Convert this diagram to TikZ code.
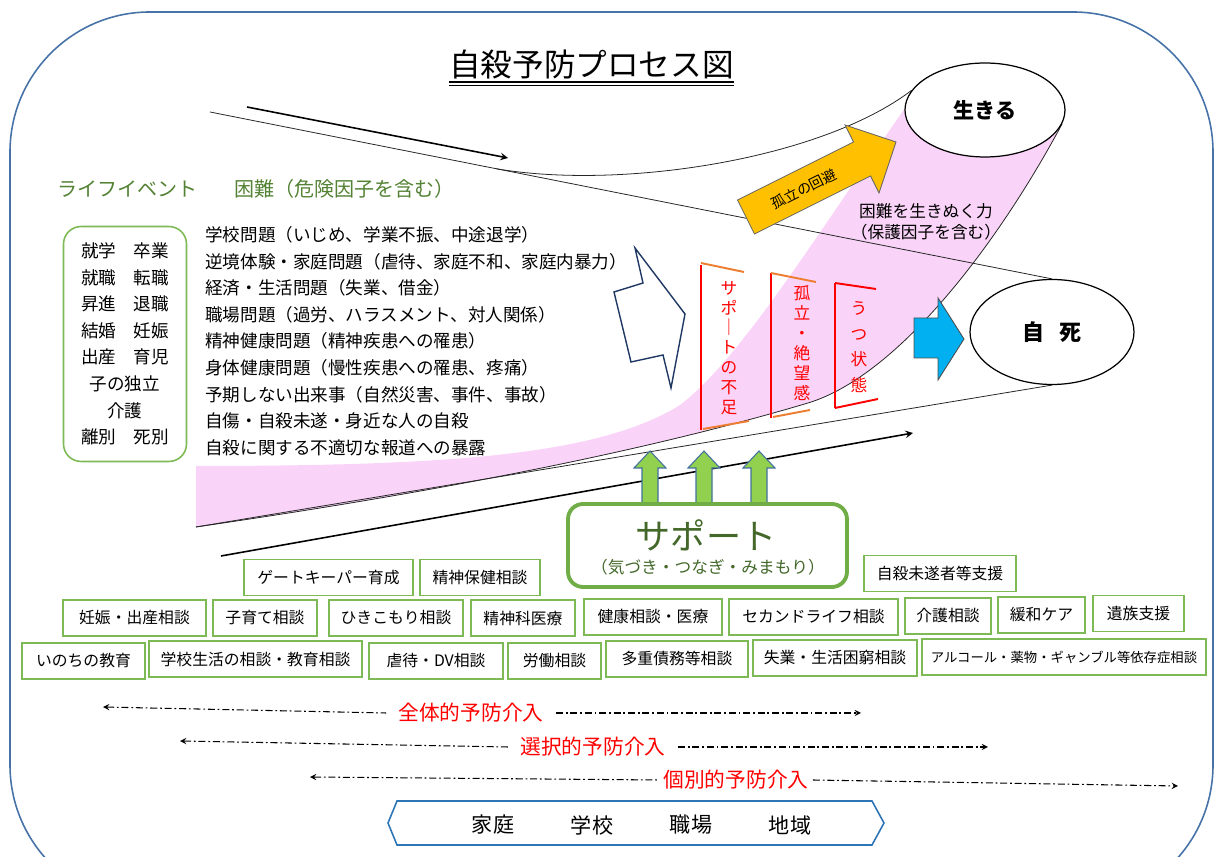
\documentclass[tikz,border=0pt]{standalone}
\usepackage{fontspec}
\setmainfont{Noto Sans CJK JP}
\usetikzlibrary{shapes.geometric,backgrounds,calc}

\definecolor{framecol}{RGB}{70,114,168}
\definecolor{lifegreen}{RGB}{84,130,53}
\definecolor{svcgreen}{RGB}{125,185,85}
\definecolor{supgreen}{RGB}{112,173,71}
\definecolor{arrowgreen}{RGB}{146,208,80}
\definecolor{arrowedge}{RGB}{65,113,156}
\definecolor{pinkfill}{RGB}{250,212,248}
\definecolor{avoidyellow}{RGB}{255,192,0}
\definecolor{deathblue}{RGB}{0,176,240}
\definecolor{navy}{RGB}{31,56,100}
\definecolor{bracketorange}{RGB}{237,125,49}
\definecolor{bannerblue}{RGB}{46,117,182}

\newcommand{\setfs}[1]{\fontsize{#1}{#1}\selectfont}

\begin{document}
\begin{tikzpicture}[x=0.02cm,y=-0.02cm,>=stealth,
    thinline/.style={black!85,line width=0.45pt},
    flowarrow/.style={->,line width=0.9pt},
    goal/.style={ellipse,draw,line width=0.7pt,fill=white,inner sep=0pt,font=\setfs{12.5}\bfseries},
    heading/.style={anchor=west,inner sep=0pt,text=lifegreen,font=\setfs{11.4}},
    bracket/.style={line width=1.1pt},
    vtext/.style={red,align=center,inner sep=0pt},
    svc/.style={draw=svcgreen,line width=0.8pt,fill=white,minimum height=0.72cm,inner sep=1pt,font=\setfs{9}},
    scopeline/.style={dash pattern=on 4pt off 1.6pt on 1pt off 1.6pt,line width=0.6pt},
    scopelabel/.style={red,inner sep=0.24cm,font=\setfs{11.8}},
    supportarrow/.style={fill=arrowgreen,draw=arrowedge,line width=0.6pt},
    uparrow/.pic={\draw[supportarrow] (-8,0) -- (-8,-39) -- (-16,-39) -- (0,-56) -- (16,-39) -- (8,-39) -- (8,0) -- cycle;}
    ]
    \useasboundingbox (0,0) rectangle (1215,857);

    % title
    \node[inner sep=0pt,font=\setfs{18}] (title) at (591.5,64.5) {自殺予防プロセス図};
    \draw[line width=1.1pt] ([yshift=-0.05cm]title.south west) -- ([yshift=-0.05cm]title.south east);
    \draw[line width=0.5pt] ([yshift=-0.12cm]title.south west) -- ([yshift=-0.12cm]title.south east);

    % outcomes
    \node[goal,minimum width=3.2cm,minimum height=1.88cm,font=\setfs{12}\bfseries] (live) at (985,110) {生きる};
    \node[goal,minimum width=3.28cm,minimum height=2.1cm] (death) at (1052,332) {自\hspace{0.7em}死};

    \coordinate (riskTop) at (210,112);
    \coordinate (riskBot) at (196,527);
    \coordinate (bend) at (808,403);
    \coordinate (fork) at ($(riskTop)!0.34!(death.north)$);

    \begin{scope}[on background layer]
        \draw[framecol,line width=0.9pt,rounded corners=2.8cm] (10,12) rectangle (1213,905);
        % band of resilience
        \fill[pinkfill] (riskBot) -- (196,466) .. controls (450,466) and (600,455) .. (680,405)
            .. controls (740,360) and (820,230) .. (905,108) -- (live.center) -- (live.-10)
            .. controls (1000,240) and (900,375) .. (bend) .. controls (650,450) and (450,490) .. (riskBot);
        \draw[thinline] (riskTop) -- (death.north);
        \draw[thinline] (riskBot) -- (death.south);
        \draw[thinline] (fork) .. controls (620,190) and (820,160) .. (live.165);
        \draw[thinline] (riskBot) .. controls (450,490) and (650,450) .. (bend)
            .. controls (900,375) and (1000,240) .. (live.-10);
    \end{scope}

    \coordinate (flowA) at (247,107);
    \coordinate (flowB) at (508,158);
    \coordinate (flowC) at (221,556);
    \coordinate (flowD) at (913,433);
    \draw[flowarrow] (flowA) -- (flowB);
    \draw[flowarrow] (flowC) -- (flowD);

    % life events and risks
    \node[heading] (lifeEvents) at (57,189) {ライフイベント};
    \node[heading] (hardship) at (234,189) {困難（危険因子を含む）};
    \node[draw=svcgreen,line width=0.9pt,rounded corners=0.35cm,minimum width=2.46cm,minimum height=4.7cm,
        align=center,font=\fontsize{10}{15.1}\selectfont] (events) at (125,344)
        {就学　卒業\\就職　転職\\昇進　退職\\結婚　妊娠\\出産　育児\\子の独立\\介護\\離別　死別};
    \node[anchor=north west,inner sep=0pt,align=left,font=\fontsize{10}{15.15}\selectfont] (risks) at (205,226)
        {学校問題（いじめ、学業不振、中途退学）\\
         逆境体験・家庭問題（虐待、家庭不和、家庭内暴力）\\
         経済・生活問題（失業、借金）\\
         職場問題（過労、ハラスメント、対人関係）\\
         精神健康問題（精神疾患への罹患）\\
         身体健康問題（慢性疾患への罹患、疼痛）\\
         予期しない出来事（自然災害、事件、事故）\\
         自傷・自殺未遂・身近な人の自殺\\
         自殺に関する不適切な報道への暴露};

    % white arrow
    \draw[navy,line width=0.8pt,fill=white] (635,248) -- (685,314) -- (671,388) -- (663,355)
        -- (631,362) -- (614,292) -- (643,283) -- cycle;

    % stages
    \draw[bracket,red] (701,265) -- (701,430);
    \draw[bracket,bracketorange] (701,263) -- (744,272);
    \draw[bracket,bracketorange] (703,429) -- (749,421);
    \node[vtext,font=\fontsize{9.5}{11.3}\selectfont] (lack) at (729,348) {サ\\ポ\\｜\\ト\\の\\不\\足};
    \draw[bracket,red] (771,273) -- (771,418);
    \draw[bracket,bracketorange] (771,273) -- (816,282);
    \draw[bracket,bracketorange] (773,417) -- (810,410);
    \node[vtext,font=\fontsize{9.5}{11.4}\selectfont] (isolation) at (802,343) {孤\\立\\・\\絶\\望\\感};
    \draw[bracket,red] (835,283) -- (835,408);
    \draw[bracket,red] (835,283) -- (876,289);
    \draw[bracket,red] (835,408) -- (878,399);
    \node[vtext,font=\fontsize{9.5}{14.6}\selectfont] (depression) at (859,347) {う\\つ\\状\\態};

    % avoiding isolation
    \draw[black!60,line width=0.5pt,fill=avoidyellow] (737.5,200) -- (853.5,142) -- (845,125) -- (896,142)
        -- (879,193) -- (870.5,176) -- (754.5,234) -- cycle;
    \node[rotate=26.6,inner sep=0pt,font=\setfs{8}] (avoid) at (804,189) {孤立の回避};
    \node[align=center,inner sep=0pt,font=\fontsize{9.5}{12}\selectfont] (resilience) at (926,222)
        {困難を生きぬく力\\（保護因子を含む）};

    % towards suicide
    \draw[black!70,line width=0.5pt,fill=deathblue] (914,318) -- (938,318) -- (938,298) -- (964,339)
        -- (938,380) -- (938,358) -- (914,358) -- cycle;

    % support
    \pic at (650,507) {uparrow};
    \pic at (704,507) {uparrow};
    \pic at (759,507) {uparrow};
    \node[draw=supgreen,line width=2.2pt,fill=white,rounded corners=0.3cm,minimum width=5.58cm,minimum height=1.66cm] (support) at (707.5,545.5) {};
    \node[text=lifegreen!80!black,font=\setfs{20}] (supportTitle) at (706,535) {サポート};
    \node[text=lifegreen!80!black,font=\setfs{9.5}] (supportSub) at (708,567) {（気づき・つなぎ・みまもり）};

    % services
    \node[svc,minimum width=3.38cm] (gatekeeper) at (328.5,577.5) {ゲートキーパー育成};
    \node[svc,minimum width=2.4cm] (mentalHealth) at (480,577.5) {精神保健相談};
    \node[svc,minimum width=3.04cm] (attempt) at (940,573.5) {自殺未遂者等支援};
    \node[svc,minimum width=2.86cm] (pregnancy) at (134.5,618) {妊娠・出産相談};
    \node[svc,minimum width=2.08cm] (childcare) at (265,618) {子育て相談};
    \node[svc,minimum width=2.68cm] (hikikomori) at (396,618) {ひきこもり相談};
    \node[svc,minimum width=2.08cm] (psychiatry) at (523,618) {精神科医療};
    \node[svc,minimum width=2.76cm] (health) at (653,617) {健康相談・医療};
    \node[svc,minimum width=3.38cm] (secondLife) at (813.5,617) {セカンドライフ相談};
    \node[svc,minimum width=1.72cm] (care) at (948,616) {介護相談};
    \node[svc,minimum width=1.74cm] (palliative) at (1041.5,615) {緩和ケア};
    \node[svc,minimum width=1.82cm] (bereaved) at (1138.5,613.5) {遺族支援};
    \node[svc,minimum width=2.46cm] (lifeEdu) at (83.5,661) {いのちの教育};
    \node[svc,minimum width=4.26cm] (schoolLife) at (255.5,659) {学校生活の相談・教育相談};
    \node[svc,minimum width=2.68cm] (abuse) at (436,661) {虐待・DV相談};
    \node[svc,minimum width=1.86cm] (labor) at (554.5,661) {労働相談};
    \node[svc,minimum width=2.84cm] (debt) at (677,659) {多重債務等相談};
    \node[svc,minimum width=3.28cm] (unemployed) at (835,658) {失業・生活困窮相談};
    \node[svc,minimum width=5.68cm,font=\setfs{7.6}] (addiction) at (1064,657) {アルコール・薬物・ギャンブル等依存症相談};

    % prevention levels
    \node[scopelabel] (universal) at (471,713) {全体的予防介入};
    \node[scopelabel] (selective) at (593,747) {選択的予防介入};
    \node[scopelabel,inner sep=0.08cm] (indicated) at (736,780) {個別的予防介入};
    \coordinate (universalL) at (103,707);
    \coordinate (universalR) at (861,713);
    \coordinate (selectiveL) at (180,741);
    \coordinate (selectiveR) at (988,747);
    \coordinate (indicatedL) at (310,777);
    \coordinate (indicatedR) at (1178,786);
    \draw[scopeline,<-] (universalL) -- (universal.west);
    \draw[scopeline,->] (universal.east) -- (universalR);
    \draw[scopeline,<-] (selectiveL) -- (selective.west);
    \draw[scopeline,->] (selective.east) -- (selectiveR);
    \draw[scopeline,<-] (indicatedL) -- (indicated.west);
    \draw[scopeline,->] (indicated.east) -- (indicatedR);

    % settings
    \draw[bannerblue,line width=0.9pt,fill=white] (388,823) -- (397,801) -- (872,801) -- (884,823) -- (872,845) -- (397,845) -- cycle;
    \node[font=\setfs{12}] (home) at (493,825) {家庭};
    \node[font=\setfs{12}] (school) at (592,825) {学校};
    \node[font=\setfs{12}] (work) at (691,825) {職場};
    \node[font=\setfs{12}] (community) at (790,825) {地域};
\end{tikzpicture}
\end{document}
